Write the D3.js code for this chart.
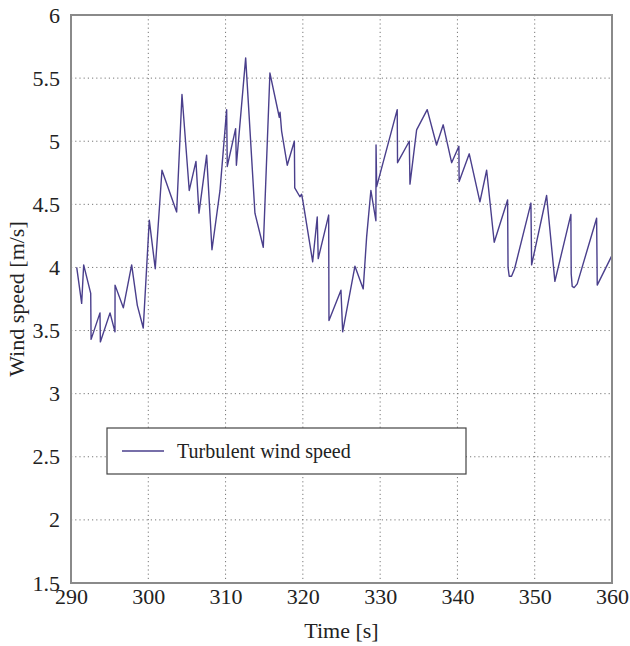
<!DOCTYPE html>
<html><head><meta charset="utf-8">
<script src="https://cdn.jsdelivr.net/npm/d3@7"></script>
<style>
body{margin:0;background:#fff;}
</style></head>
<body><svg id="c" width="630" height="646"></svg>
<script>
const time = [290.74,291.38,291.64,292.55,292.6,293.75,293.8,295.05,295.69,295.7,296.77,297.85,298.58,299.35,300.13,300.9,301.77,303.67,304.36,305.3,306.17,306.56,307.55,308.24,309.28,310.14,310.22,311.3,311.4,312.6,313.8,314.88,315.74,316.95,317.05,317.25,317.98,318.9,318.95,319.62,319.84,320.05,321.27,321.86,321.99,323.34,323.38,324.93,325.15,326.74,327.81,328.25,328.8,329.45,329.47,329.55,332.21,332.25,333.77,333.86,334.72,336.09,337.3,338.16,339.25,340.19,340.22,341.53,342.91,343.78,344.76,346.49,346.55,346.7,347.0,347.4,349.51,349.6,351.54,352.61,354.68,354.72,354.85,355.1,355.5,358.01,358.09,359.95];
const windSpeed = [4.00,3.715,4.02,3.795,3.43,3.64,3.41,3.64,3.49,3.86,3.68,4.02,3.70,3.52,4.375,3.99,4.77,4.44,5.37,4.61,4.84,4.43,4.89,4.14,4.61,5.25,4.80,5.10,4.81,5.66,4.43,4.16,5.54,5.19,5.23,5.08,4.81,5.0,4.63,4.56,4.58,4.51,4.045,4.40,4.07,4.415,3.58,3.82,3.49,4.01,3.83,4.24,4.61,4.37,4.97,4.64,5.25,4.83,5.0,4.66,5.09,5.25,4.97,5.13,4.83,4.96,4.68,4.90,4.52,4.77,4.20,4.535,4.0,3.93,3.93,3.99,4.51,4.02,4.57,3.89,4.42,3.95,3.85,3.84,3.87,4.39,3.86,4.09];
const xTicks = [290,300,310,320,330,340,350,360];
const yTicks = [1.5,2,2.5,3,3.5,4,4.5,5,5.5,6];
const seriesName = "Turbulent wind speed";
const xTitle = "Time [s]";
const yTitle = "Wind speed [m/s]";

const L=71,R=612,T=15,B=583;
const FONT='"Liberation Serif", "Times New Roman", serif';
const svg=d3.select("#c");
const x=d3.scaleLinear().domain([290,360]).range([L,R]);
const y=d3.scaleLinear().domain([1.5,6]).range([B,T]);

// grid
svg.append("g").selectAll("line").data(xTicks.slice(1,-1)).join("line")
  .attr("x1",d=>x(d)).attr("x2",d=>x(d)).attr("y1",T).attr("y2",B)
  .attr("stroke","#777").attr("stroke-width",1).attr("stroke-dasharray","1.2,3");
svg.append("g").selectAll("line").data(yTicks.slice(1,-1)).join("line")
  .attr("y1",d=>y(d)).attr("y2",d=>y(d)).attr("x1",L).attr("x2",R)
  .attr("stroke","#777").attr("stroke-width",1).attr("stroke-dasharray","1.2,3");

// axes (labels only)
const xa=svg.append("g").attr("transform",`translate(0,${B})`)
  .call(d3.axisBottom(x).tickValues(xTicks).tickSize(0).tickPadding(5).tickFormat(d3.format("d")));
xa.select(".domain").remove();
xa.selectAll("text").style("font-family",FONT).style("font-size","22px").style("fill","#222");
const ya=svg.append("g").attr("transform",`translate(${L},0)`)
  .call(d3.axisLeft(y).tickValues(yTicks).tickSize(0).tickPadding(11).tickFormat(d=>String(d)));
ya.select(".domain").remove();
ya.selectAll("text").style("font-family",FONT).style("font-size","22px").style("fill","#222");

// line
const data=time.map((t,i)=>({t,v:windSpeed[i]}));
svg.append("path").datum(data)
  .attr("d",d3.line().x(d=>x(d.t)).y(d=>y(d.v)))
  .attr("fill","none").attr("stroke","#4a3f8c").attr("stroke-width",1.4)
  .attr("stroke-linejoin","round");

// frame
svg.append("rect").attr("x",L).attr("y",T).attr("width",R-L).attr("height",B-T)
  .attr("fill","none").attr("stroke","#8a8a8a").attr("stroke-width",2);

// titles
svg.append("text").attr("x",(L+R)/2).attr("y",638).attr("text-anchor","middle")
  .style("font-family",FONT).style("font-size","22px").style("fill","#222").text(xTitle);
svg.append("text").attr("transform",`translate(24,${(T+B)/2}) rotate(-90)`)
  .attr("text-anchor","middle").style("font-family",FONT).style("font-size","22px").style("fill","#222").text(yTitle);

// legend
const lg=svg.append("g");
lg.append("rect").attr("x",107).attr("y",428).attr("width",359).attr("height",46)
  .attr("fill","#fff").attr("stroke","#444").attr("stroke-width",1.2);
lg.append("line").attr("x1",122).attr("x2",164).attr("y1",451).attr("y2",451)
  .attr("stroke","#4a3f8c").attr("stroke-width",1.4);
lg.append("text").attr("x",177).attr("y",458).style("font-family",FONT).style("font-size","20px").style("fill","#222").text(seriesName);
</script></body></html>
